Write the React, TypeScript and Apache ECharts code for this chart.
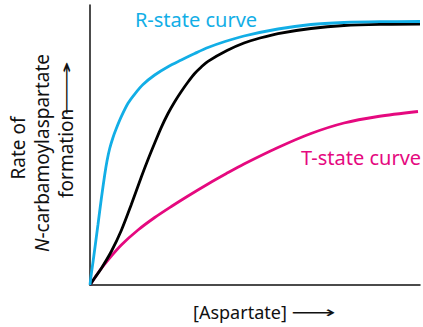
import React, { useEffect, useRef } from "react";
import * as echarts from "echarts";

const rState: [number, number][] = [
  [0, 0], [0.39, 3.93], [0.91, 8.21], [1.42, 12.68], [2.42, 21.61], [3.42, 30.71],
  [4.45, 39.29], [5.15, 44.29], [5.97, 48.75], [6.97, 52.68], [7.97, 55.89], [9.48, 60.11],
  [11.52, 64.89], [13.55, 68.21], [16.06, 71.61], [19.61, 75.0], [23.64, 77.96],
  [27.67, 80.36], [31.73, 82.68], [35.76, 84.82], [40.91, 86.96], [46.67, 88.93],
  [56.97, 91.43], [66.97, 93.04], [76.97, 93.75], [87.88, 94.04], [100, 94.11],
];
const observed: [number, number][] = [
  [0, 0], [1.52, 2.68], [3.42, 5.89], [6.45, 11.96], [9.48, 19.46], [12.52, 28.75],
  [15.55, 38.57], [17.58, 44.82], [19.61, 50.71], [21.61, 56.32], [23.64, 61.25],
  [25.67, 65.46], [27.67, 69.11], [29.7, 72.5], [31.73, 75.54], [33.73, 77.86],
  [35.76, 79.89], [41.52, 83.75], [46.67, 86.43], [51.52, 88.21], [56.97, 89.82],
  [66.97, 91.61], [76.97, 92.68], [87.88, 93.11], [100, 93.21],
];
const tState: [number, number][] = [
  [0, 0], [1.52, 2.68], [3.42, 5.89], [5.45, 8.93], [9.48, 14.29], [14.55, 19.64],
  [19.61, 24.11], [24.64, 28.04], [29.7, 31.79], [35.76, 36.07], [41.21, 39.71],
  [46.67, 43.21], [56.97, 49.11], [66.97, 54.11], [76.97, 57.86], [87.27, 60.18],
  [99.39, 61.96],
];

const CYAN = "#12aee6";
const MAGENTA = "#e5097f";
const INK = "#111";
const FONT = "'Noto Sans', 'Open Sans', sans-serif";
const ARROW_FONT = "'DejaVu Sans', sans-serif";

export default function App() {
  const ref = useRef<HTMLDivElement>(null);
  useEffect(() => {
    document.body.style.margin = "0";
    const chart = echarts.init(ref.current!, null, { renderer: "svg" });
    const lineSeries = (data: [number, number][], color: string) => ({
      type: "line", data, smooth: 0.3, showSymbol: false,
      lineStyle: { color, width: 2.8 },
    });
    chart.setOption({
      animation: false,
      grid: { left: 90, top: 5, right: 3, bottom: 42 },
      xAxis: {
        type: "value", min: 0, max: 100,
        axisLine: { lineStyle: { color: INK, width: 1.5 } },
        axisTick: { show: false }, axisLabel: { show: false }, splitLine: { show: false },
      },
      yAxis: {
        type: "value", min: 0, max: 100,
        axisLine: { show: true, lineStyle: { color: INK, width: 1.5 } },
        axisTick: { show: false }, axisLabel: { show: false }, splitLine: { show: false },
      },
      series: [
        lineSeries(tState, MAGENTA),
        lineSeries(observed, "#000"),
        lineSeries(rState, CYAN),
      ],
      graphic: [
        { type: "text", x: 196, y: 19, style: { text: "R-state curve", fill: CYAN, font: `20px ${FONT}`, textAlign: "center", textVerticalAlign: "middle" } },
        { type: "text", x: 361, y: 157, style: { text: "T-state curve", fill: MAGENTA, font: `20px ${FONT}`, textAlign: "center", textVerticalAlign: "middle" } },
        { type: "text", x: 193, y: 312, style: { text: "[Aspartate]", fill: INK, font: `18px ${FONT}`, textAlign: "left", textVerticalAlign: "middle" } },
        { type: "text", x: 291, y: 313, scaleX: 1.95, style: { text: "⟶", fill: INK, font: `16px ${ARROW_FONT}`, textAlign: "left", textVerticalAlign: "middle" } },
        { type: "text", x: 18, y: 148, rotation: Math.PI / 2, style: { text: "Rate of", fill: INK, font: `19px ${FONT}`, textAlign: "center", textVerticalAlign: "middle" } },
        {
          type: "text", x: 42, y: 153, rotation: Math.PI / 2,
          style: {
            text: "{i|N}-carbamoylaspartate", fill: INK, font: `19px ${FONT}`, textAlign: "center", textVerticalAlign: "middle",
            rich: { i: { fontStyle: "italic", fontSize: 19, fontFamily: FONT, fill: INK } },
          },
        },
        { type: "text", x: 66, y: 198, rotation: Math.PI / 2, style: { text: "formation", fill: INK, font: `19px ${FONT}`, textAlign: "left", textVerticalAlign: "middle" } },
        { type: "text", x: 67, y: 116, rotation: Math.PI / 2, scaleX: 2.4, style: { text: "⟶", fill: INK, font: `16px ${ARROW_FONT}`, textAlign: "left", textVerticalAlign: "middle" } },
      ],
    });
    return () => chart.dispose();
  }, []);
  return <div ref={ref} style={{ width: 423, height: 327 }} />;
}
